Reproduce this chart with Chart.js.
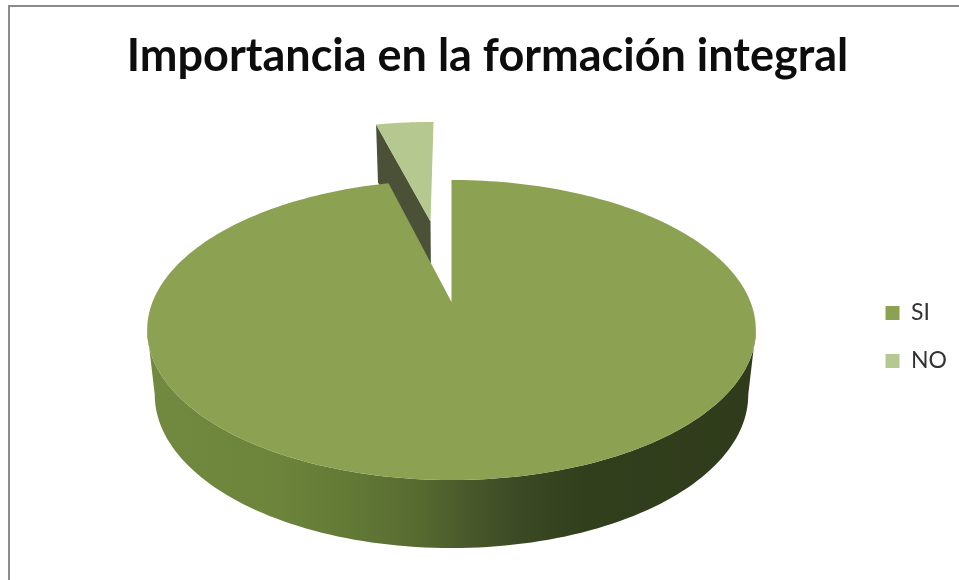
<!DOCTYPE html>
<html lang="es">

<head>
    <meta charset="UTF-8">
    <title>Importancia en la formación integral</title>
    <script src="https://cdn.jsdelivr.net/npm/chart.js"></script>
    <style>
        html, body { margin: 0; padding: 0; background: #fff; overflow: hidden; }
        .marco {
            position: absolute; left: 8px; top: 5px; width: 951px; height: 575px;
            border-left: 2px solid #8b8b8b; border-top: 2px solid #8b8b8b;
            box-sizing: border-box;
        }
        #grafico { position: absolute; left: 18px; top: 0; }
    </style>
</head>

<body>
    <div class="marco"></div>
    <canvas id="grafico" width="941" height="580"></canvas>

    <script>
        const categorias = ['SI', 'NO'];
        const valores = [96, 4];
        const coloresSectores = ['#8da152', '#b5c88f'];

        // sector separation, as a fraction of the radius
        const separacion = [0, 0.625];

        // perspective of the pie: the disc (u, v) goes to the screen through these
        const centroX = 451.5 - 18, centroY = 302;
        const escalaX = 299, escalaY = 144.8, fuga = 0.1867;

        function caraSuperior(u, v) {
            const w = 1 - fuga * v;
            return [centroX + escalaX * u / w, centroY + escalaY * v / w];
        }

        function caraInferior(u, v) {
            const p = caraSuperior(u, v);
            return [centroX + (p[0] - centroX) * 0.975, p[1] + 64 + 4 * v];
        }

        function trazar(ctx, puntos) {
            ctx.beginPath();
            puntos.forEach(function (p, i) {
                if (i == 0) ctx.moveTo(p[0], p[1]);
                else ctx.lineTo(p[0], p[1]);
            });
            ctx.closePath();
        }

        function sombraLateral(ctx) {
            const g = ctx.createLinearGradient(147 - 18, 0, 756 - 18, 0);
            g.addColorStop(0, '#728a40');
            g.addColorStop(0.2, '#6d853b');
            g.addColorStop(0.33, '#637a36');
            g.addColorStop(0.45, '#566a30');
            g.addColorStop(0.52, '#4a5a2b');
            g.addColorStop(0.62, '#3a4823');
            g.addColorStop(0.72, '#323f1d');
            g.addColorStop(1, '#2f3b1a');
            return g;
        }

        // the pie is drawn tilted, using the angles chart.js worked out for each arc
        const pastel3d = {
            id: 'pastel3d',
            beforeDatasetsDraw(chart) {
                const ctx = chart.ctx;
                const arcos = chart.getDatasetMeta(0).data;

                // far sector first, the big one goes over it
                for (let i = arcos.length - 1; i >= 0; i--) {
                    const arco = arcos[i];
                    const medio = (arco.startAngle + arco.endAngle) / 2;
                    const du = Math.cos(medio) * separacion[i];
                    const dv = Math.sin(medio) * separacion[i];

                    const borde = [];
                    const pasos = 240;
                    for (let p = 0; p <= pasos; p++) {
                        const a = arco.startAngle + (arco.endAngle - arco.startAngle) * p / pasos;
                        borde.push([du + Math.cos(a), dv + Math.sin(a)]);
                    }
                    const centro = [du, dv];

                    // straight wall on the side facing the viewer
                    const b0 = borde[0];
                    ctx.fillStyle = '#4b5137';
                    trazar(ctx, [
                        caraSuperior(centro[0], centro[1]),
                        caraSuperior(b0[0], b0[1]),
                        caraInferior(b0[0], b0[1]),
                        caraInferior(centro[0], centro[1])
                    ]);
                    ctx.fill();

                    // rounded wall, from one side of the outline to the other
                    const frente = borde.filter(function (b) { return b[1] - dv >= fuga; });
                    if (frente.length > 1) {
                        const arriba = frente.map(function (b) { return caraSuperior(b[0], b[1]); });
                        const abajo = frente.map(function (b) { return caraInferior(b[0], b[1]); }).reverse();
                        ctx.fillStyle = sombraLateral(ctx);
                        trazar(ctx, arriba.concat(abajo));
                        ctx.fill();
                    }

                    // top face
                    const cara = [caraSuperior(centro[0], centro[1])].concat(
                        borde.map(function (b) { return caraSuperior(b[0], b[1]); })
                    );
                    ctx.fillStyle = coloresSectores[i];
                    trazar(ctx, cara);
                    ctx.fill();
                }
                return false;
            }
        };

        new Chart(document.getElementById('grafico'), {
            type: 'pie',
            data: {
                labels: categorias,
                datasets: [{
                    data: valores,
                    backgroundColor: coloresSectores,
                    borderWidth: 0
                }]
            },
            options: {
                responsive: false,
                animation: false,
                layout: { padding: { right: 2 } },
                plugins: {
                    tooltip: { enabled: false },
                    title: {
                        display: true,
                        text: 'Importancia en la formación integral',
                        color: '#0d0d0d',
                        font: { family: 'Lato', size: 45, weight: 'bold' },
                        padding: { top: 29, bottom: 11 }
                    },
                    legend: {
                        position: 'right',
                        fullSize: false,
                        labels: {
                            color: '#333333',
                            font: { family: 'Lato', size: 23 },
                            boxWidth: 14,
                            boxHeight: 14,
                            padding: 25
                        }
                    }
                }
            },
            plugins: [pastel3d]
        });
    </script>
</body>
</html>
